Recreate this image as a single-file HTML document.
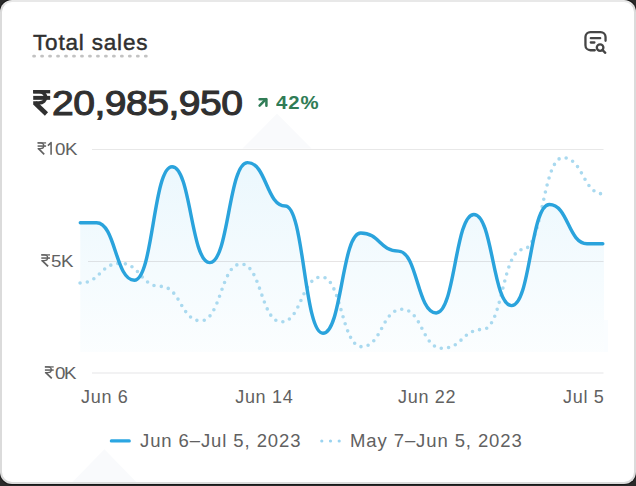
<!DOCTYPE html>
<html><head><meta charset="utf-8">
<style>
html,body{margin:0;padding:0;}
body{width:636px;height:486px;background:#2a2a2a;position:relative;overflow:hidden;font-family:"Liberation Sans",sans-serif;}
.card{position:absolute;left:0;top:0;width:632px;height:480px;border:2px solid #dbdbdb;border-top-color:#e8e8e8;border-radius:12px;background:#fff;overflow:hidden;box-shadow:0 0 0 1px #181818;}
.abs{position:absolute;white-space:nowrap;}
.title{left:33px;top:29.8px;font-size:22.5px;color:#303030;line-height:26px;letter-spacing:0.82px;-webkit-text-stroke:0.45px #303030;}
.big{left:52px;top:83.3px;font-size:35.5px;font-weight:normal;color:#303030;line-height:40px;letter-spacing:-0.45px;transform:scaleX(1.1);transform-origin:0 0;-webkit-text-stroke:1.1px #303030;}
.pct{left:275.5px;top:93px;font-size:18.5px;font-weight:bold;color:#307c56;line-height:20px;letter-spacing:0.9px;transform:scaleX(1.1);transform-origin:0 0;}
.ylab{font-size:17px;color:#616161;line-height:20px;letter-spacing:0.4px;transform:scaleX(1.1);transform-origin:0 0;}
.xlab{font-size:18px;color:#616161;line-height:20px;letter-spacing:0.7px;}
.leg{font-size:18.5px;color:#616161;line-height:20px;letter-spacing:0.9px;}
.d{position:relative;top:-1.5px;}
svg.ov{position:absolute;left:0;top:0;}
</style></head><body>
<div class="card"></div>
<svg class="ov" width="636" height="486" viewBox="0 0 636 486">
  <defs>
    <linearGradient id="g" x1="0" y1="160" x2="0" y2="352" gradientUnits="userSpaceOnUse">
      <stop offset="0" stop-color="#38b4ec" stop-opacity="0.1"/>
      <stop offset="1" stop-color="#38b4ec" stop-opacity="0.02"/>
    </linearGradient>
  </defs>
  <path d="M242.5,148.6 L277,113.8 L311.5,148.6 Z" fill="#f3f6f9" opacity="0.5"/>
  <path d="M72.5,482 L104.4,449.2 L136.3,482 Z" fill="#f3f6f9" opacity="0.5"/>
  <line x1="92" y1="149.5" x2="603.5" y2="149.5" stroke="#e8e8e8" stroke-width="1.2"/>
  <line x1="88" y1="261.5" x2="603.5" y2="261.5" stroke="#e7e4e4" stroke-width="1.2"/>
  <line x1="92" y1="373" x2="603.5" y2="373" stroke="#e6e6e8" stroke-width="1.2"/>
  <path d="M80.30,222.70 L96.60,222.70 C115.46,222.70 115.46,280.20 134.33,280.20 C153.19,280.20 153.19,166.80 172.06,166.80 C190.93,166.80 190.93,262.60 209.79,262.60 C228.65,262.60 228.65,162.60 247.52,162.60 C266.38,162.60 266.38,206.00 285.25,206.00 C304.12,206.00 304.12,333.30 322.98,333.30 C341.84,333.30 341.84,233.00 360.71,233.00 C379.57,233.00 379.57,251.10 398.44,251.10 C417.30,251.10 417.30,313.00 436.17,313.00 C455.03,313.00 455.03,214.40 473.90,214.40 C492.76,214.40 492.76,305.60 511.63,305.60 C530.50,305.60 530.50,204.50 549.36,204.50 C568.22,204.50 568.22,243.70 587.09,243.70 L602.80,243.70 L604,243.70 L604,352 L80.30,352 Z" fill="url(#g)"/>
  <rect x="604" y="320" width="4" height="32" fill="#38b4ec" fill-opacity="0.025"/>
  <path d="M80.06,283.00 C100.18,283.00 100.18,263.30 120.30,263.30 C140.42,263.30 140.42,286.40 160.54,286.40 C180.66,286.40 180.66,320.80 200.78,320.80 C220.90,320.80 220.90,264.00 241.02,264.00 C261.14,264.00 261.14,321.90 281.26,321.90 C301.38,321.90 301.38,277.00 321.50,277.00 C341.62,277.00 341.62,346.70 361.74,346.70 C381.86,346.70 381.86,309.30 401.98,309.30 C422.10,309.30 422.10,348.30 442.22,348.30 C462.34,348.30 462.34,329.50 482.46,329.50 C502.58,329.50 502.58,249.50 522.70,249.50 C542.82,249.50 542.82,157.70 562.94,157.70 C583.06,157.70 583.06,193.90 603.18,193.90" fill="none" stroke="#a9d9ef" stroke-width="3.6" stroke-linecap="round" stroke-dasharray="0 7.3"/>
  <path d="M80.30,222.70 L96.60,222.70 C115.46,222.70 115.46,280.20 134.33,280.20 C153.19,280.20 153.19,166.80 172.06,166.80 C190.93,166.80 190.93,262.60 209.79,262.60 C228.65,262.60 228.65,162.60 247.52,162.60 C266.38,162.60 266.38,206.00 285.25,206.00 C304.12,206.00 304.12,333.30 322.98,333.30 C341.84,333.30 341.84,233.00 360.71,233.00 C379.57,233.00 379.57,251.10 398.44,251.10 C417.30,251.10 417.30,313.00 436.17,313.00 C455.03,313.00 455.03,214.40 473.90,214.40 C492.76,214.40 492.76,305.60 511.63,305.60 C530.50,305.60 530.50,204.50 549.36,204.50 C568.22,204.50 568.22,243.70 587.09,243.70 L602.80,243.70" fill="none" stroke="#2aa3dc" stroke-width="3.45" stroke-linecap="round" stroke-linejoin="round"/>
  <g fill="none" stroke="#454545" stroke-width="2.3" stroke-linecap="round">
    <path d="M594.8,50.25 H590.45 A5,5 0 0 1 585.45,45.25 V37.05 A5,5 0 0 1 590.45,32.05 H600.55 A5,5 0 0 1 605.55,37.05 V40.8"/>
    <path d="M590.8,38.2 H600.2 M590.8,42.5 H594.4"/>
    <circle cx="600.1" cy="47.6" r="3.3"/>
    <path d="M602.6,50.2 L605.3,52.8"/>
  </g>
  <line x1="111.3" y1="440.9" x2="129.3" y2="440.9" stroke="#2ba6e2" stroke-width="3.1" stroke-linecap="round"/>
  <line x1="321.8" y1="441" x2="339.2" y2="441" stroke="#9ad3f0" stroke-width="3.2" stroke-linecap="round" stroke-dasharray="0 8.7"/>
  <g fill="none" stroke="#307c56" stroke-width="2.5" stroke-linecap="round" stroke-linejoin="round">
    <path d="M259.6,105.6 L266,99.2"/>
    <path d="M259.6,99.2 H266.4 V105.8"/>
  </g>
  <line x1="33.6" y1="56.2" x2="147" y2="56.2" stroke="#c2c2c2" stroke-width="2.8" stroke-linecap="round" stroke-dasharray="1 6.98"/>
  <g fill="none" stroke="#303030"><path d="M33.20,91.71 H50.20" stroke-width="3.35"/><path d="M33.20,97.86 H50.20" stroke-width="3.97"/><path d="M33.20,91.71 H38.98 C47.70,91.71 47.70,103.00 38.98,103.00 H33.20" stroke-width="3.59"/><path d="M35.00,103.00 L46.46,114.01" stroke-width="4.56"/></g>
  <path d="M47.9,145.6 L51.1,142.6 V154.7" fill="none" stroke="#616161" stroke-width="1.55" stroke-linejoin="round"/>
  <g fill="none" stroke="#616161"><path d="M37.60,142.92 H46.10" stroke-width="1.28"/><path d="M37.60,146.06 H46.10" stroke-width="1.52"/><path d="M37.60,142.92 H40.49 C44.85,142.92 44.85,148.68 40.49,148.68 H37.60" stroke-width="1.37"/><path d="M38.50,148.68 L44.23,154.30" stroke-width="1.75"/></g>
  <g fill="none" stroke="#616161"><path d="M41.30,254.92 H50.00" stroke-width="1.28"/><path d="M41.30,258.06 H50.00" stroke-width="1.52"/><path d="M41.30,254.92 H44.26 C48.72,254.92 48.72,260.68 44.26,260.68 H41.30" stroke-width="1.37"/><path d="M42.22,260.68 L48.09,266.30" stroke-width="1.75"/></g>
  <g fill="none" stroke="#616161"><path d="M44.90,366.92 H53.70" stroke-width="1.28"/><path d="M44.90,370.06 H53.70" stroke-width="1.52"/><path d="M44.90,366.92 H47.89 C52.41,366.92 52.41,372.68 47.89,372.68 H44.90" stroke-width="1.37"/><path d="M45.83,372.68 L51.76,378.30" stroke-width="1.75"/></g>
</svg>
<div class="abs title">Total sales</div>
<div class="abs big">20,985,950</div>
<div class="abs pct">42%</div>
<div class="abs ylab" style="left:55px;top:140px">0</div><div class="abs ylab" style="left:65.3px;top:140px">K</div>
<div class="abs ylab" style="left:51.3px;top:252px">5</div><div class="abs ylab" style="left:60.9px;top:252px">K</div>
<div class="abs ylab" style="left:54.7px;top:364px">0</div><div class="abs ylab" style="left:64.3px;top:364px">K</div>
<div class="abs xlab" style="left:81px;top:387px">Jun 6</div>
<div class="abs xlab" style="left:235.2px;top:387px">Jun 14</div>
<div class="abs xlab" style="left:398px;top:387px">Jun 22</div>
<div class="abs xlab" style="left:563px;top:387px">Jul 5</div>
<div class="abs leg" style="left:140px;top:431px">Jun 6<span class="d">–</span>Jul 5, 2023</div>
<div class="abs leg" style="left:350px;top:431px">May 7<span class="d">–</span>Jun 5, 2023</div>
</body></html>
